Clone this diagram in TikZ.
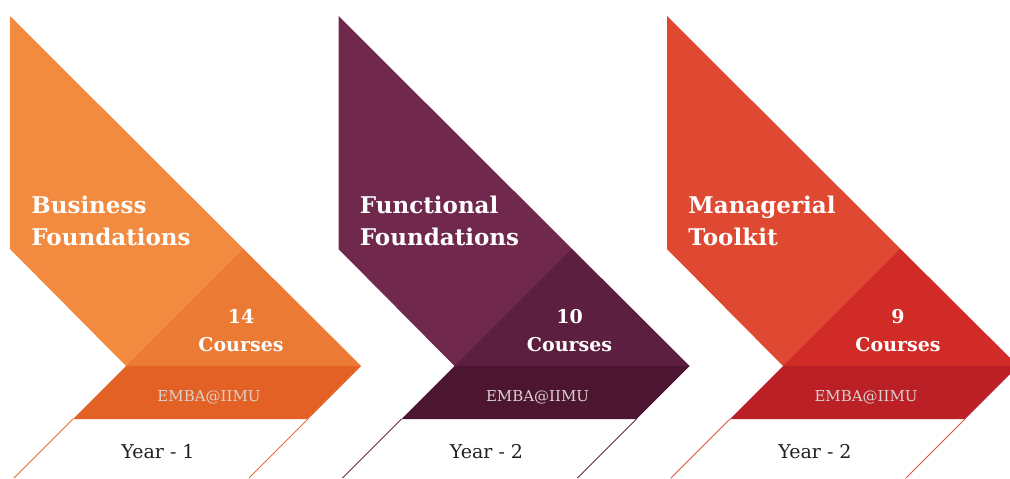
\documentclass[tikz,border=0pt]{standalone}
\usepackage{fontspec}
\setmainfont{DejaVu Serif}
\usetikzlibrary{positioning}
\definecolor{bizmain}{HTML}{F28A3F}
\definecolor{bizdark}{HTML}{EB7A34}
\definecolor{bizband}{HTML}{E46125}
\definecolor{bizline}{HTML}{E8692B}
\definecolor{funmain}{HTML}{70284C}
\definecolor{fundark}{HTML}{5D1F3F}
\definecolor{funband}{HTML}{4C1630}
\definecolor{funline}{HTML}{6A2547}
\definecolor{mgrmain}{HTML}{DF4831}
\definecolor{mgrdark}{HTML}{D12B27}
\definecolor{mgrband}{HTML}{BA2025}
\definecolor{mgrline}{HTML}{E0523A}
\definecolor{brandtext}{HTML}{DAD2CE}
\definecolor{yeartext}{HTML}{231F20}

\begin{document}
\begin{tikzpicture}[x=0.5pt,y=-0.5pt,
    heading/.style={text=white,font=\bfseries\fontsize{11.5}{16}\selectfont,align=left,anchor=base west,inner sep=0pt},
    count/.style={text=white,font=\bfseries\fontsize{9.5}{14}\selectfont,align=center,anchor=base,inner sep=0pt},
    brand/.style={text=brandtext,font=\fontsize{7.5}{9}\selectfont,anchor=base,inner sep=0pt},
    year/.style={text=yeartext,font=\fontsize{9.5}{12}\selectfont,anchor=base,inner sep=0pt}]
  \useasboundingbox (0,0) rectangle (1010,478);
  \clip (0,0) rectangle (1010,478);
  \foreach \n/\dx/\c/\ttl/\num/\yr in {
      1/0/biz/{Business\\Foundations}/14/1,
      2/328.5/fun/{Functional\\Foundations}/10/2,
      3/657/mgr/{Managerial\\Toolkit}/9/2}{
    \begin{scope}[shift={(\dx,0)}]
      % arrow body, inner triangle, band
      \fill[\c main] (10,16) -- (361,366) -- (126,366) -- (10,249) -- cycle;
      \fill[\c dark] (243,249) -- (361,366) -- (126,366) -- cycle;
      \fill[\c band] (126,366) -- (361,366) -- (308,419) -- (73,419) -- cycle;
      \draw[\c line,line width=0.5pt] (73,419) -- (14,478) (308,419) -- (249,478);
      \node (title\n) [heading] at (31,245) {\ttl};
      \node (count\n) [count] at (241,351) {\num\\Courses};
      \node (brand\n) [brand] at (209,401) {EMBA@IIMU};
      \node (year\n) [year] at (158,458) {Year - \yr};
    \end{scope}
  }
\end{tikzpicture}
\end{document}
